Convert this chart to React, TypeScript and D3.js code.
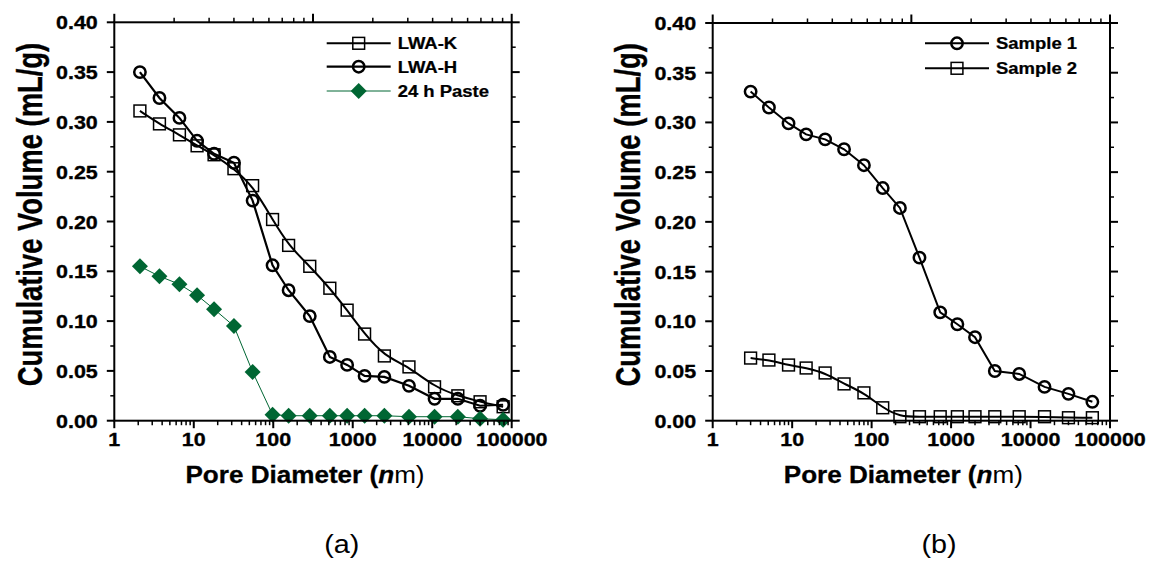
import React from "react";
import * as d3 from "d3";

// ---------- data ----------
const xTickValues = [1, 10, 100, 1000, 10000, 100000];
const xTickLabels = ["1", "10", "100", "1000", "10000", "100000"];
const yTickValues = [0, 0.05, 0.1, 0.15, 0.2, 0.25, 0.3, 0.35, 0.4];
const yTickLabels = ["0.00", "0.05", "0.10", "0.15", "0.20", "0.25", "0.30", "0.35", "0.40"];

const diamA = [2.1, 3.7, 6.6, 11, 18, 32, 55, 98, 156, 288, 515, 850, 1410, 2500, 5100, 10700, 21000, 40000, 78000];
const lwaK = [0.311, 0.298, 0.287, 0.276, 0.267, 0.253, 0.236, 0.202, 0.176, 0.155, 0.133, 0.111, 0.087, 0.065, 0.054, 0.034, 0.025, 0.019, 0.014];
const lwaH = [0.35, 0.324, 0.304, 0.281, 0.268, 0.259, 0.221, 0.156, 0.131, 0.105, 0.064, 0.056, 0.045, 0.044, 0.035, 0.022, 0.022, 0.015, 0.016];
const paste24h = [0.155, 0.145, 0.137, 0.126, 0.112, 0.095, 0.049, 0.006, 0.005, 0.005, 0.005, 0.005, 0.005, 0.005, 0.004, 0.004, 0.004, 0.002, 0.001];

const diamB = [3, 5.1, 9, 15, 26, 45, 80, 138, 227, 400, 730, 1200, 2000, 3550, 7200, 15000, 30000, 60000];
const sample1 = [0.331, 0.315, 0.299, 0.288, 0.283, 0.273, 0.257, 0.234, 0.214, 0.164, 0.109, 0.097, 0.084, 0.05, 0.047, 0.034, 0.027, 0.019];
const sample2 = [0.063, 0.061, 0.056, 0.053, 0.048, 0.037, 0.028, 0.013, 0.004, 0.004, 0.004, 0.004, 0.004, 0.004, 0.004, 0.004, 0.003, 0.003];

const panelLabels = ["(a)", "(b)"];
const GREEN = "#006633";
const FONT = "'Liberation Sans', Arial, Helvetica, sans-serif";

type Marker = "square" | "circle" | "diamond";
interface Series {
  name: string;
  x: number[];
  y: number[];
  marker: Marker;
  color: string;
  lineWidth: number;
  smooth: boolean;
}

const seriesA: Series[] = [
  { name: "LWA-K", x: diamA, y: lwaK, marker: "square", color: "#000", lineWidth: 2, smooth: true },
  { name: "LWA-H", x: diamA, y: lwaH, marker: "circle", color: "#000", lineWidth: 2.2, smooth: false },
  { name: "24 h Paste", x: diamA, y: paste24h, marker: "diamond", color: GREEN, lineWidth: 1, smooth: false },
];
const seriesB: Series[] = [
  { name: "Sample 1", x: diamB, y: sample1, marker: "circle", color: "#000", lineWidth: 2, smooth: false },
  { name: "Sample 2", x: diamB, y: sample2, marker: "square", color: "#000", lineWidth: 2, smooth: true },
];

function MarkerShape({ type, x, y, color }: { type: Marker; x: number; y: number; color: string }) {
  if (type === "circle") {
    return <circle cx={x} cy={y} r={5.7} fill="none" stroke={color} strokeWidth={2.5} />;
  }
  if (type === "square") {
    return <rect x={x - 5.9} y={y - 5.9} width={11.8} height={11.8} fill="none" stroke={color} strokeWidth={1.5} />;
  }
  const h = 8;
  return <path d={`M${x},${y - h}L${x + h},${y}L${x},${y + h}L${x - h},${y}Z`} fill={color} stroke="none" />;
}

function SText({ x, y, sx = 1, size, anchor = "start", weight = "bold", heavy = 0, children }: any) {
  return (
    <text
      transform={`translate(${x},${y}) scale(${sx},1)`}
      fontFamily={FONT}
      fontSize={size}
      fontWeight={weight}
      textAnchor={anchor}
      fill="#000"
      stroke={heavy ? "#000" : "none"}
      strokeWidth={heavy}
    >
      {children}
    </text>
  );
}

function Panel({
  left, right, top, bottom, series, legendX, legendRows, label, labelX,
}: {
  left: number; right: number; top: number; bottom: number; series: Series[];
  legendX: number; legendRows: number[]; label: string; labelX: number;
}) {
  const xs = d3.scaleLog().domain([1, 100000]).range([left, right]);
  const ys = d3.scaleLinear().domain([0, 0.4]).range([bottom, top]);
  const xTop = d3.scaleLog().domain([1, 100]).range([left, right]);

  const minorBottom: number[] = [];
  for (let d = 1; d < 100000; d *= 10) for (let k = 2; k <= 9; k++) minorBottom.push(d * k);
  const topTicks: { v: number; major: boolean }[] = [];
  for (let d = 1; d <= 100; d *= 10) {
    topTicks.push({ v: d, major: true });
    if (d < 100) for (let k = 2; k <= 9; k++) topTicks.push({ v: d * k, major: false });
  }
  const yMinor = d3.range(0.025, 0.4, 0.05);

  const axisW = 2;
  const cx = (left + right) / 2;

  return (
    <g>
      {series.map((s) => {
        const pts: [number, number][] = s.x.map((v, i) => [xs(v), ys(s.y[i])]);
        const line = d3.line().curve(s.smooth ? d3.curveBasis : d3.curveLinear);
        return (
          <g key={s.name}>
            <path d={line(pts) || ""} fill="none" stroke={s.color} strokeWidth={s.lineWidth} />
            {pts.map((p, i) => (
              <MarkerShape key={i} type={s.marker} x={p[0]} y={p[1]} color={s.color} />
            ))}
          </g>
        );
      })}

      <rect x={left} y={top} width={right - left} height={bottom - top} fill="none" stroke="#000" strokeWidth={axisW} />

      {xTickValues.map((v) => (
        <line key={"bM" + v} x1={xs(v)} x2={xs(v)} y1={bottom} y2={bottom + 7.5} stroke="#000" strokeWidth={axisW} />
      ))}
      {minorBottom.map((v) => (
        <line key={"bm" + v} x1={xs(v)} x2={xs(v)} y1={bottom} y2={bottom + 4.5} stroke="#000" strokeWidth={1.5} />
      ))}
      {topTicks.map((t) => (
        <line key={"t" + t.v} x1={xTop(t.v)} x2={xTop(t.v)} y1={top} y2={top - (t.major ? 8.5 : 4.5)} stroke="#000" strokeWidth={t.major ? axisW : 1.5} />
      ))}
      {yTickValues.map((v) => (
        <g key={"y" + v}>
          <line x1={left - 7.5} x2={left} y1={ys(v)} y2={ys(v)} stroke="#000" strokeWidth={axisW} />
          <line x1={right} x2={right + 8} y1={ys(v)} y2={ys(v)} stroke="#000" strokeWidth={axisW} />
        </g>
      ))}
      {yMinor.map((v) => (
        <g key={"ym" + v}>
          <line x1={left - 4} x2={left} y1={ys(v)} y2={ys(v)} stroke="#000" strokeWidth={1.5} />
          <line x1={right} x2={right + 4} y1={ys(v)} y2={ys(v)} stroke="#000" strokeWidth={1.5} />
        </g>
      ))}

      {xTickValues.map((v, i) => (
        <SText key={"xl" + v} x={xs(v)} y={445.5} sx={1.13} size={19} anchor="middle" heavy={0.35}>{xTickLabels[i]}</SText>
      ))}
      {yTickValues.map((v, i) => (
        <SText key={"yl" + v} x={left - 16.5} y={ys(v) + 7} sx={1.13} size={19} anchor="end" heavy={0.35}>{yTickLabels[i]}</SText>
      ))}

      <text transform={`translate(${cx - 8},483.3) scale(1.12,1)`} fontFamily={FONT} fontSize={23.3} fontWeight="bold" textAnchor="middle" fill="#000" stroke="#000" strokeWidth={0.3}>
        Pore Diameter (<tspan fontStyle="italic">n</tspan><tspan fontWeight="normal" strokeWidth={0}>m)</tspan>
      </text>
      <text transform={`translate(${left - 72.6},${(top + bottom) / 2 - 7}) scale(1.25,1) rotate(-90)`} fontFamily={FONT} fontSize={27.4} fontWeight="bold" textAnchor="middle" fill="#000" stroke="#000" strokeWidth={0.3}>
        Cumulative Volume (mL/g)
      </text>

      {series.map((s, i) => (
        <g key={"lg" + s.name}>
          <line x1={legendX} x2={legendX + 64} y1={legendRows[i]} y2={legendRows[i]} stroke={s.color} strokeWidth={s.lineWidth} />
          <MarkerShape type={s.marker} x={legendX + 32} y={legendRows[i]} color={s.color} />
          <SText x={legendX + 71} y={legendRows[i] + 6} sx={1.1} size={16.8} heavy={0.25}>{s.name}</SText>
        </g>
      ))}

      <SText x={labelX} y={553} sx={1.15} size={25} anchor="middle" weight="normal">{label}</SText>
    </g>
  );
}

export default function App() {
  return (
    <svg width={1155} height={562} style={{ position: "absolute", left: 0, top: 0, background: "#fff" }}>
      <rect x={0} y={0} width={1155} height={562} fill="#fff" />
      <Panel left={114.3} right={511.7} top={22.3} bottom={420.7} series={seriesA}
        legendX={326.7} legendRows={[43.3, 66.7, 91]} label={panelLabels[0]} labelX={341.7} />
      <Panel left={712.7} right={1110} top={23} bottom={420.7} series={seriesB}
        legendX={925} legendRows={[43.3, 68.3]} label={panelLabels[1]} labelX={939} />
    </svg>
  );
}
